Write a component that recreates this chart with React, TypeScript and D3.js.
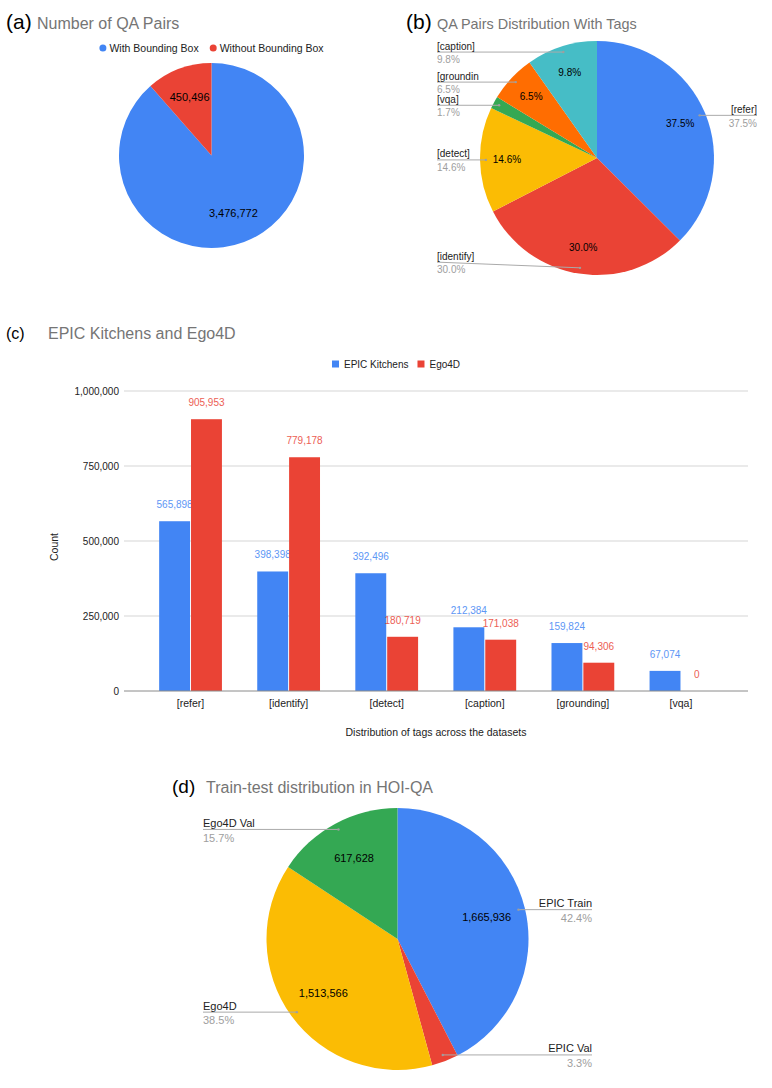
import { useEffect, useRef } from 'react'
import * as d3 from 'd3'

// (a) QA pairs with / without boxes
const QA_KINDS = ['With Bounding Box', 'Without Bounding Box']
const QA_COUNTS = [3476772, 450496]

// (b) tag shares, in pie order
const TAG_NAMES = ['[refer]', '[identify]', '[detect]', '[vqa]', '[grounding]', '[caption]']
const TAG_SHARES = [37.5, 30.0, 14.6, 1.7, 6.5, 9.8]

// (c) counts per tag and dataset
const BAR_TAGS = ['[refer]', '[identify]', '[detect]', '[caption]', '[grounding]', '[vqa]']
const SERIES = ['EPIC Kitchens', 'Ego4D']
const EPIC_COUNTS = [565898, 398398, 392496, 212384, 159824, 67074]
const EGO4D_COUNTS = [905953, 779178, 180719, 171038, 94306, 0]
const Y_TICKS = [0, 250000, 500000, 750000, 1000000]

// (d) train / test split
const SPLITS = ['EPIC Train', 'EPIC Val', 'Ego4D', 'Ego4D Val']
const SPLIT_COUNTS = [1665936, 130138, 1513566, 617628]

const BLUE = '#4285f4', RED = '#ea4335', YELLOW = '#fbbc04', GREEN = '#34a853', ORANGE = '#ff6d01', TEAL = '#46bdc6'
const FONT = '"Liberation Sans", Arial, Helvetica, sans-serif'
const GREY = '#9e9e9e'
const fmt = d3.format(',')

type Sel = d3.Selection<any, unknown, null, undefined>
type Arc = d3.PieArcDatum<number>

const polar = (cx: number, cy: number, a: number, rr: number) => [cx + Math.sin(a) * rr, cy - Math.cos(a) * rr]

function text(g: Sel, x: number, y: number, s: string, size: number, fill: string, anchor = 'start') {
  return g.append('text').attr('x', x).attr('y', y).attr('font-size', size).attr('fill', fill)
    .attr('text-anchor', anchor).text(s)
}

function title(g: Sel, x: number, tx: number, y: number, tag: string, s: string, tagSize: number, size: number) {
  text(g, x, y, tag, tagSize, '#000')
  text(g, tx, y, s, size, '#757575')
}

function drawPie(g: Sel, values: number[], colors: string[], cx: number, cy: number, r: number) {
  const arcs = d3.pie<number>().sort(null).value(d => d)(values)
  const arc = d3.arc<Arc>().innerRadius(0).outerRadius(r)
  g.append('g').attr('transform', `translate(${cx},${cy})`)
    .selectAll('path').data(arcs).join('path')
    .attr('d', arc).attr('fill', (_d, i) => colors[i])
  return arcs
}

function innerLabels(g: Sel, arcs: Arc[], cx: number, cy: number, r: number, frac: number, size: number, label: (d: Arc) => string) {
  const total = d3.sum(arcs, d => d.value)
  arcs.forEach(d => {
    if (d.value / total < 0.05) return
    const a = (d.startAngle + d.endAngle) / 2
    const [x, y] = polar(cx, cy, a, r * frac)
    text(g, x, y + size * 0.36, label(d), size, '#000', 'middle')
  })
}

function outerLabels(g: Sel, arcs: Arc[], names: string[], cx: number, cy: number, r: number,
  leftX: number, rightX: number, size: number, maxY: number, maxW: number) {
  const total = d3.sum(arcs, d => d.value)
  arcs.forEach((d, i) => {
    const a = (d.startAngle + d.endAngle) / 2
    const [px, py] = polar(cx, cy, a, r * 0.95)
    const right = Math.sin(a) > 0
    const lx = right ? rightX : leftX
    const ly = Math.min(py, maxY)
    g.append('line').attr('x1', lx).attr('y1', ly).attr('x2', px).attr('y2', py)
      .attr('stroke', '#aaa').attr('stroke-width', 1)
    g.append('circle').attr('cx', px).attr('cy', py).attr('r', 1.2).attr('fill', GREY)
    const anchor = right ? 'end' : 'start'
    const t = text(g, lx, ly - 2.5, names[i], size, '#222', anchor)
    let s = names[i]
    const node = t.node() as SVGTextElement
    while (node.getComputedTextLength() > maxW && s.length > 1) {
      s = s.slice(0, -1)
      t.text(s)
    }
    text(g, lx, ly + size * 1.12, `${(d.value / total * 100).toFixed(1)}%`, size, GREY, anchor)
  })
}

export default function App() {
  const ref = useRef<SVGSVGElement>(null)

  useEffect(() => {
    const svg = d3.select(ref.current!) as Sel
    svg.selectAll('*').remove()

    // ---------- (a)
    const ga = svg.append('g')
    title(ga, 6, 37, 29, '(a)', 'Number of QA Pairs', 21, 16)
    const aColors = [BLUE, RED]
    const aCx = 211.5, aCy = 155.5, aR = 92.5
    const arcsA = drawPie(ga, QA_COUNTS, aColors, aCx, aCy, aR)
    innerLabels(ga, arcsA, aCx, aCy, aR, 0.67, 11, d => fmt(d.value))
    // legend
    const lg = ga.append('g')
    let lx = 0
    QA_KINDS.forEach((k, i) => {
      lg.append('circle').attr('cx', lx + 3.5).attr('cy', 48).attr('r', 3.5).attr('fill', aColors[i])
      const t = text(lg, lx + 10, 52, k, 10.5, '#222')
      lx += 10 + (t.node() as SVGTextElement).getComputedTextLength() + 11
    })
    lg.attr('transform', `translate(${aCx - (lx - 11) / 2},0)`)

    // ---------- (b)
    const gb = svg.append('g')
    title(gb, 406, 437, 29, '(b)', 'QA Pairs Distribution With Tags', 21, 14.4)
    const bCx = 597, bCy = 158, bR = 117
    const arcsB = drawPie(gb, TAG_SHARES, [BLUE, RED, YELLOW, GREEN, ORANGE, TEAL], bCx, bCy, bR)
    innerLabels(gb, arcsB, bCx, bCy, bR, 0.77, 10, d => `${(d.value / d3.sum(TAG_SHARES) * 100).toFixed(1)}%`)
    outerLabels(gb, arcsB, TAG_NAMES, bCx, bCy, bR, 437, 757, 10, bCy + bR * 0.89, 44)

    // ---------- (c)
    const gc = svg.append('g')
    title(gc, 6, 48, 339, '(c)', 'EPIC Kitchens and Ego4D', 16, 16)
    // legend
    const sColors = [BLUE, RED]
    let cx0 = 332
    SERIES.forEach((s, i) => {
      gc.append('rect').attr('x', cx0).attr('y', 360.5).attr('width', 7).attr('height', 7).attr('fill', sColors[i])
      const t = text(gc, cx0 + 12, 367.5, s, 10, '#222')
      cx0 += 12 + (t.node() as SVGTextElement).getComputedTextLength() + 9
    })

    const y = d3.scaleLinear().domain([0, 1000000]).range([691, 391])
    const x = d3.scaleBand<string>().domain(BAR_TAGS).range([141.5, 730]).paddingInner(0.36).paddingOuter(0.18)
    const xs = d3.scaleBand<string>().domain(SERIES).range([0, x.bandwidth()]).paddingInner(0.03)
    const plotL = 124, plotR = 748

    Y_TICKS.forEach(t => {
      if (t > 0) gc.append('line').attr('x1', plotL).attr('x2', plotR).attr('y1', y(t)).attr('y2', y(t))
        .attr('stroke', '#e3e3e3').attr('stroke-width', 1.3)
      text(gc, 119, y(t) + 3.6, fmt(t), 10, '#222', 'end')
    })

    const seriesVals = [EPIC_COUNTS, EGO4D_COUNTS]
    BAR_TAGS.forEach((tag, i) => {
      SERIES.forEach((s, j) => {
        const v = seriesVals[j][i]
        const bx = x(tag)! + xs(s)!
        gc.append('rect').attr('x', bx).attr('y', y(v)).attr('width', xs.bandwidth())
          .attr('height', y(0) - y(v)).attr('fill', sColors[j])
        text(gc, bx + xs.bandwidth() / 2, y(v) - 13, fmt(v), 10, sColors[j], 'middle').attr('opacity', 0.85)
      })
      text(gc, x(tag)! + x.bandwidth() / 2, 707, tag, 10.5, '#222', 'middle')
    })
    gc.append('line').attr('x1', plotL).attr('x2', plotR).attr('y1', y(0)).attr('y2', y(0))
      .attr('stroke', '#8a8a8a').attr('stroke-width', 1)

    text(gc, 436, 736, 'Distribution of tags across the datasets', 10.5, '#222', 'middle')
    gc.append('text').attr('transform', 'translate(57.5,547) rotate(-90)').attr('text-anchor', 'middle')
      .attr('font-size', 10.5).attr('fill', '#222').text('Count')

    // ---------- (d)
    const gd = svg.append('g')
    title(gd, 172, 206, 793, '(d)', 'Train-test distribution in HOI-QA', 19, 16)
    const dCx = 397.5, dCy = 939, dR = 131
    const arcsD = drawPie(gd, SPLIT_COUNTS, [BLUE, RED, YELLOW, GREEN], dCx, dCy, dR)
    innerLabels(gd, arcsD, dCx, dCy, dR, 0.7, 11, d => fmt(d.value))
    outerLabels(gd, arcsD, SPLITS, dCx, dCy, dR, 203, 592, 11, dCy + dR * 0.9, 200)
  }, [])

  return (
    <svg ref={ref} width={772} height={1088} fontFamily={FONT}
      style={{ position: 'absolute', left: 0, top: 0, background: '#fff' }} />
  )
}
